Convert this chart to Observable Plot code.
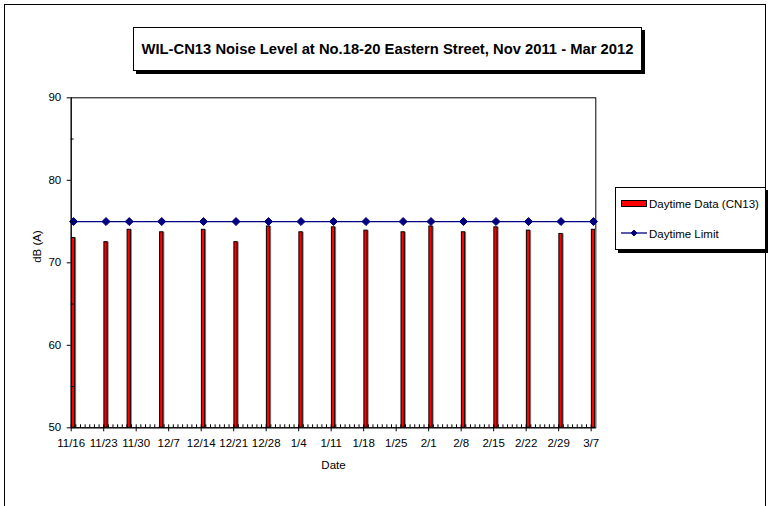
<!DOCTYPE html>
<html><head><meta charset="utf-8">
<script src="https://cdn.jsdelivr.net/npm/d3@7"></script>
<script src="https://cdn.jsdelivr.net/npm/@observablehq/plot@0.6"></script>
<style>
html,body{margin:0;padding:0;background:#fff;}
svg text{font-family:"Liberation Sans",Arial,sans-serif;}
</style></head>
<body><div id="chart"></div>
<script>
const titleText = "WIL-CN13 Noise Level at No.18-20 Eastern Street, Nov 2011 - Mar 2012";
const dates = ["2011-11-16","2011-11-23","2011-11-28","2011-12-05","2011-12-14","2011-12-21","2011-12-28","2012-01-04","2012-01-11","2012-01-18","2012-01-26","2012-02-01","2012-02-08","2012-02-15","2012-02-22","2012-02-29","2012-03-07"];
const daytime = [73.0,72.5,74.0,73.7,74.0,72.5,74.4,73.7,74.3,73.9,73.7,74.4,73.7,74.3,73.9,73.5,74.0];
const limitValue = 75;
const tickLabels = ["11/16","11/23","11/30","12/7","12/14","12/21","12/28","1/4","1/11","1/18","1/25","2/1","2/8","2/15","2/22","2/29","3/7"];
const yTicks = [50,60,70,80,90];
const yMinorTicks = [55,65,75,85];
const seriesNames = ["Daytime Data (CN13)","Daytime Limit"];

const DAY = 864e5;
const data = dates.map((d,i)=>({date:new Date(d+"T00:00Z"), value:daytime[i], limit:limitValue}));
const tickDates = tickLabels.map(l=>{const [m,d]=l.split("/").map(Number);return new Date(Date.UTC(m>=11?2011:2012,m-1,d));});
const xStart = tickDates[0], xEnd = new Date(+tickDates[tickDates.length-1]+DAY);
const dailyTicks = d3.utcDay.range(xStart, xEnd);
const mid = d => new Date(+d.date + DAY/2);

const chart = Plot.plot({
  width:771, height:506,
  marginLeft:70.7, marginRight:175.7, marginTop:97.3, marginBottom:78.7,
  style:{fontFamily:"Liberation Sans, Arial, sans-serif", fontSize:"11.5px", color:"#000", background:"#fff"},
  x:{type:"utc", domain:[xStart,xEnd]},
  y:{domain:[50,90]},
  marks:[
    Plot.frame({stroke:"#000", strokeWidth:1}),
    Plot.rect(data,{x1:d=>new Date(+d.date+DAY*0.15), x2:d=>new Date(+d.date+DAY*0.85), y1:50, y2:"value", fill:"#808080", dx:1.5, dy:0}),
    Plot.rect(data,{x1:d=>new Date(+d.date+DAY*0.15), x2:d=>new Date(+d.date+DAY*0.85), y1:50, y2:"value", fill:"#ff0000", stroke:"#000", strokeWidth:1}),
    Plot.ruleY([limitValue],{stroke:"#000080", strokeWidth:1.3}),
    Plot.dot(data,{x:mid, y:"limit", symbol:"diamond2", r:3.6, fill:"#000080", stroke:"#000080", strokeWidth:1}),
    Plot.axisX(dailyTicks,{tickSize:-3, tickFormat:()=>"", label:null, stroke:"#000"}),
    Plot.axisX(tickDates,{tickSize:4, tickPadding:7.5, tickFormat:d3.utcFormat("%-m/%-d"), label:null, stroke:"#000", fill:"#000"}),
    Plot.axisY(yTicks,{tickSize:4, tickPadding:6, label:null, stroke:"#000", fill:"#000"}),
    Plot.axisY(yMinorTicks,{tickSize:-3, tickFormat:()=>"", label:null, stroke:"#000"}),
    Plot.ruleX([xStart],{stroke:"#000"}),
    Plot.ruleY([50],{stroke:"#000"}),
    Plot.text(["Date"],{frameAnchor:"bottom", dy:41, fontSize:11.5, fill:"#000"}),
    Plot.text(["dB (A)"],{frameAnchor:"left", dx:-34, rotate:-90, fontSize:11.5, fill:"#000"})
  ]
});

const svg = d3.select(chart);
svg.insert("rect",":first-child").attr("x",4.5).attr("y",4.5).attr("width",761).attr("height",520).attr("fill","#fff").attr("stroke","#000").attr("stroke-width",1);
const tg = svg.append("g").attr("text-anchor","middle");
tg.append("rect").attr("x",136).attr("y",30).attr("width",509).attr("height",44).attr("fill","#000");
tg.append("rect").attr("x",133.5).attr("y",27.5).attr("width",508).attr("height",43).attr("fill","#fff").attr("stroke","#000");
tg.append("text").attr("x",387.5).attr("y",54).attr("font-weight","bold").attr("font-size",14)
  .attr("textLength",492).attr("lengthAdjust","spacingAndGlyphs").attr("fill","#000").text(titleText);
const lg = svg.append("g").attr("text-anchor","start");
lg.append("rect").attr("x",618).attr("y",190).attr("width",150).attr("height",63).attr("fill","#000");
lg.append("rect").attr("x",615.5).attr("y",187.5).attr("width",150).attr("height",62).attr("fill","#fff").attr("stroke","#000");
lg.append("rect").attr("x",621.5).attr("y",200.5).attr("width",25).attr("height",6).attr("fill","#ff0000").attr("stroke","#000");
lg.append("text").attr("x",649).attr("y",207.5).attr("font-size",11.5).attr("fill","#000").text(seriesNames[0]);
lg.append("line").attr("x1",621).attr("x2",647).attr("y1",233).attr("y2",233).attr("stroke","#000080").attr("stroke-width",1.3);
lg.append("path").attr("d",d3.symbol(d3.symbolDiamond2, 22)()).attr("transform","translate(634,233)").attr("fill","#000080").attr("stroke","#000080");
lg.append("text").attr("x",649).attr("y",237.5).attr("font-size",11.5).attr("fill","#000").text(seriesNames[1]);

document.getElementById("chart").appendChild(chart);
</script></body></html>
